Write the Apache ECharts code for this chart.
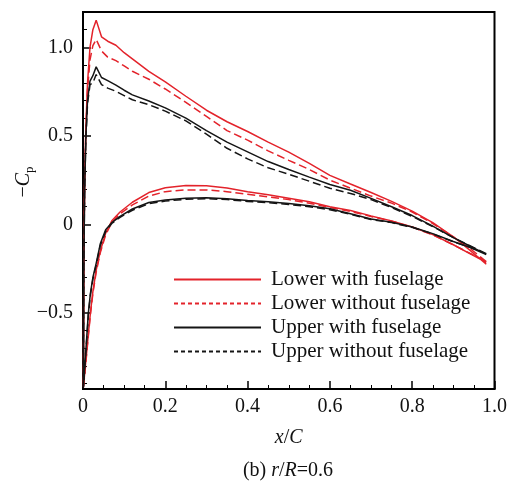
<!DOCTYPE html>
<html>
<head>
<meta charset="UTF-8">
<title>-Cp at r/R=0.6</title>
<script src="https://cdn.jsdelivr.net/npm/echarts@6.0.0/dist/echarts.min.js"></script>
<style>
  body { margin: 0; padding: 0; background: #fff; }
  #chart { width: 510px; height: 481px; }
</style>
</head>
<body>
<div id="chart"></div>
<script>
// x stations, suction side goes from trailing edge to leading edge
var suctionX = [0.98, 0.94, 0.90, 0.85, 0.80, 0.75, 0.70, 0.65, 0.60, 0.55, 0.50, 0.45, 0.40, 0.35, 0.30,
                0.25, 0.20, 0.16, 0.12, 0.10, 0.08, 0.06, 0.045, 0.032, 0.024, 0.017, 0.011, 0.007, 0.004, 0.002];
// pressure side goes from the stagnation point back to the trailing edge
var pressureX = [0.001, 0.005, 0.009, 0.013, 0.018, 0.024, 0.032, 0.042, 0.055, 0.07, 0.09, 0.12, 0.16, 0.20, 0.25,
                 0.30, 0.35, 0.40, 0.45, 0.50, 0.55, 0.60, 0.65, 0.70, 0.75, 0.80, 0.85, 0.90, 0.94, 0.98];

// Lower with fuselage
var lowerWithSuction = [-0.225, -0.145, -0.07, 0.01, 0.075, 0.13, 0.18, 0.228, 0.277, 0.345, 0.408, 0.465, 0.525, 0.58, 0.645,
                        0.724, 0.805, 0.865, 0.935, 0.97, 1.012, 1.035, 1.06, 1.154, 1.10, 1.0, 0.8, 0.55, 0.25, -0.2];
var lowerWithPressure = [-0.92, -0.82, -0.72, -0.62, -0.50, -0.38, -0.26, -0.15, -0.05, 0.02, 0.07, 0.125, 0.18, 0.207, 0.22,
                         0.218, 0.205, 0.185, 0.168, 0.148, 0.128, 0.10, 0.078, 0.048, 0.02, -0.015, -0.058, -0.115, -0.165, -0.215];
// Lower without fuselage
var lowerWithoutSuction = [-0.21, -0.135, -0.07, 0.005, 0.07, 0.12, 0.16, 0.205, 0.25, 0.31, 0.362, 0.415, 0.476, 0.53, 0.61,
                           0.69, 0.765, 0.82, 0.865, 0.895, 0.925, 0.945, 0.98, 1.045, 1.01, 0.93, 0.76, 0.53, 0.24, -0.2];
var lowerWithoutPressure = [-0.92, -0.83, -0.73, -0.63, -0.51, -0.39, -0.27, -0.16, -0.06, 0.01, 0.06, 0.11, 0.16, 0.185, 0.195,
                            0.195, 0.185, 0.17, 0.155, 0.14, 0.12, 0.095, 0.073, 0.045, 0.018, -0.015, -0.06, -0.115, -0.163, -0.21];
// Upper with fuselage
var upperWithSuction = [-0.17, -0.122, -0.075, -0.01, 0.05, 0.10, 0.147, 0.193, 0.225, 0.267, 0.31, 0.355, 0.41, 0.465, 0.53,
                        0.60, 0.658, 0.697, 0.732, 0.758, 0.787, 0.812, 0.83, 0.89, 0.84, 0.81, 0.70, 0.5, 0.2, -0.25];
var upperWithPressure = [-0.92, -0.78, -0.64, -0.50, -0.39, -0.30, -0.22, -0.11, -0.03, 0.01, 0.045, 0.087, 0.124, 0.138, 0.148,
                         0.15, 0.145, 0.135, 0.128, 0.118, 0.105, 0.088, 0.06, 0.03, 0.012, -0.015, -0.052, -0.097, -0.13, -0.17];
// Upper without fuselage
var upperWithoutSuction = [-0.165, -0.12, -0.075, -0.012, 0.045, 0.095, 0.14, 0.175, 0.204, 0.244, 0.283, 0.32, 0.37, 0.43, 0.51,
                           0.585, 0.64, 0.676, 0.704, 0.728, 0.752, 0.77, 0.79, 0.847, 0.80, 0.79, 0.68, 0.48, 0.19, -0.25];
var upperWithoutPressure = [-0.92, -0.79, -0.65, -0.51, -0.40, -0.31, -0.23, -0.12, -0.04, 0.005, 0.04, 0.08, 0.117, 0.132, 0.142,
                            0.145, 0.14, 0.13, 0.123, 0.113, 0.10, 0.083, 0.057, 0.028, 0.01, -0.017, -0.054, -0.098, -0.13, -0.165];

var seriesNames = ['Lower with fuselage', 'Lower without fuselage', 'Upper with fuselage', 'Upper without fuselage'];
var yMajorTicks = [-0.5, 0, 0.5, 1.0];
var yMinorTicks = [-0.9, -0.8, -0.7, -0.6, -0.4, -0.3, -0.2, -0.1, 0.1, 0.2, 0.3, 0.4, 0.6, 0.7, 0.8, 0.9, 1.1];

var RED = '#e3232b';
var BLACK = '#151515';
var FONT = 'Liberation Serif';

function loop(sy, py) {
    var pts = suctionX.map(function (x, i) { return [x, sy[i]]; });
    return pts.concat(pressureX.map(function (x, i) { return [x, py[i]]; }));
}
function fmt(v) {
    if (v === 0) return '0';
    return (v < 0 ? '\u2212' : '') + Math.abs(v).toFixed(1);
}

var chart = echarts.init(document.getElementById('chart'));
var line = function (name, color, dashed, data) {
    return {
        name: name, type: 'line', symbol: 'none', showSymbol: false, data: data,
        lineStyle: { color: color, width: 1.5, type: dashed ? [8, 4] : 'solid' },
        itemStyle: { color: color }
    };
};

chart.setOption({
    animation: false,
    grid: { left: 83, right: 13, top: 12, bottom: 92, show: true, borderColor: '#000', borderWidth: 2 },
    legend: {
        orient: 'vertical', left: 173, top: 269, padding: 0,
        itemWidth: 87, itemHeight: 14, itemGap: 3,
        itemStyle: { opacity: 0, color: 'transparent', borderWidth: 0 },
        textStyle: { fontFamily: FONT, fontSize: 21, color: '#111', lineHeight: 21, padding: [0, 0, 0, 5] },
        data: [
            { name: seriesNames[0] },
            { name: seriesNames[1], lineStyle: { type: [4, 3] } },
            { name: seriesNames[2] },
            { name: seriesNames[3], lineStyle: { type: [4, 3] } }
        ]
    },
    xAxis: {
        type: 'value', min: 0, max: 1.0, interval: 0.2,
        name: '{i|x}{n|/}{i|C}', nameLocation: 'middle', nameGap: 39,
        nameTextStyle: {
            rich: {
                i: { fontFamily: FONT, fontSize: 20, fontStyle: 'italic', color: '#111' },
                n: { fontFamily: FONT, fontSize: 20, color: '#111' }
            }
        },
        axisLine: { onZero: false, lineStyle: { color: '#000', width: 2 } },
        axisTick: { inside: true, length: 8, lineStyle: { color: '#000', width: 1.5 } },
        minorTick: { show: true, splitNumber: 4, length: 4, lineStyle: { color: '#000', width: 1 } },
        axisLabel: { fontFamily: FONT, fontSize: 20, color: '#111', margin: 8, formatter: fmt },
        splitLine: { show: false }
    },
    yAxis: [{
        type: 'value', min: -0.93, max: 1.2, position: 'left',
        axisLine: { onZero: false, lineStyle: { color: '#000', width: 2 } },
        axisTick: { inside: true, length: 8, customValues: yMajorTicks, lineStyle: { color: '#000', width: 1.5 } },
        axisLabel: { fontFamily: FONT, fontSize: 20, color: '#111', margin: 10, customValues: yMajorTicks, formatter: fmt },
        splitLine: { show: false }
    }, {
        type: 'value', min: -0.93, max: 1.2, position: 'left',
        axisLine: { show: false, onZero: false },
        axisTick: { inside: true, length: 4, customValues: yMinorTicks, lineStyle: { color: '#000', width: 1 } },
        axisLabel: { show: false },
        splitLine: { show: false }
    }],
    graphic: [{
        type: 'text', x: 24, y: 182, rotation: Math.PI / 2,
        style: {
            text: '{n|\u2212}{i|C}{s|p}', align: 'center', verticalAlign: 'middle',
            rich: {
                n: { fontFamily: FONT, fontSize: 20, fill: '#111', lineHeight: 24 },
                i: { fontFamily: FONT, fontSize: 20, fontStyle: 'italic', fill: '#111', lineHeight: 24 },
                s: { fontFamily: FONT, fontSize: 13, fill: '#111', lineHeight: 8, verticalAlign: 'bottom' }
            }
        }
    }, {
        type: 'text', x: 288, y: 471,
        style: {
            text: '{n|(b) }{i|r}{n|/}{i|R}{n|=0.6}', align: 'center', verticalAlign: 'middle',
            rich: {
                n: { fontFamily: FONT, fontSize: 20, fill: '#111' },
                i: { fontFamily: FONT, fontSize: 20, fontStyle: 'italic', fill: '#111' }
            }
        }
    }],
    series: [
        line(seriesNames[0], RED, false, loop(lowerWithSuction, lowerWithPressure)),
        line(seriesNames[1], RED, true, loop(lowerWithoutSuction, lowerWithoutPressure)),
        line(seriesNames[2], BLACK, false, loop(upperWithSuction, upperWithPressure)),
        line(seriesNames[3], BLACK, true, loop(upperWithoutSuction, upperWithoutPressure))
    ]
});
</script>
</body>
</html>
